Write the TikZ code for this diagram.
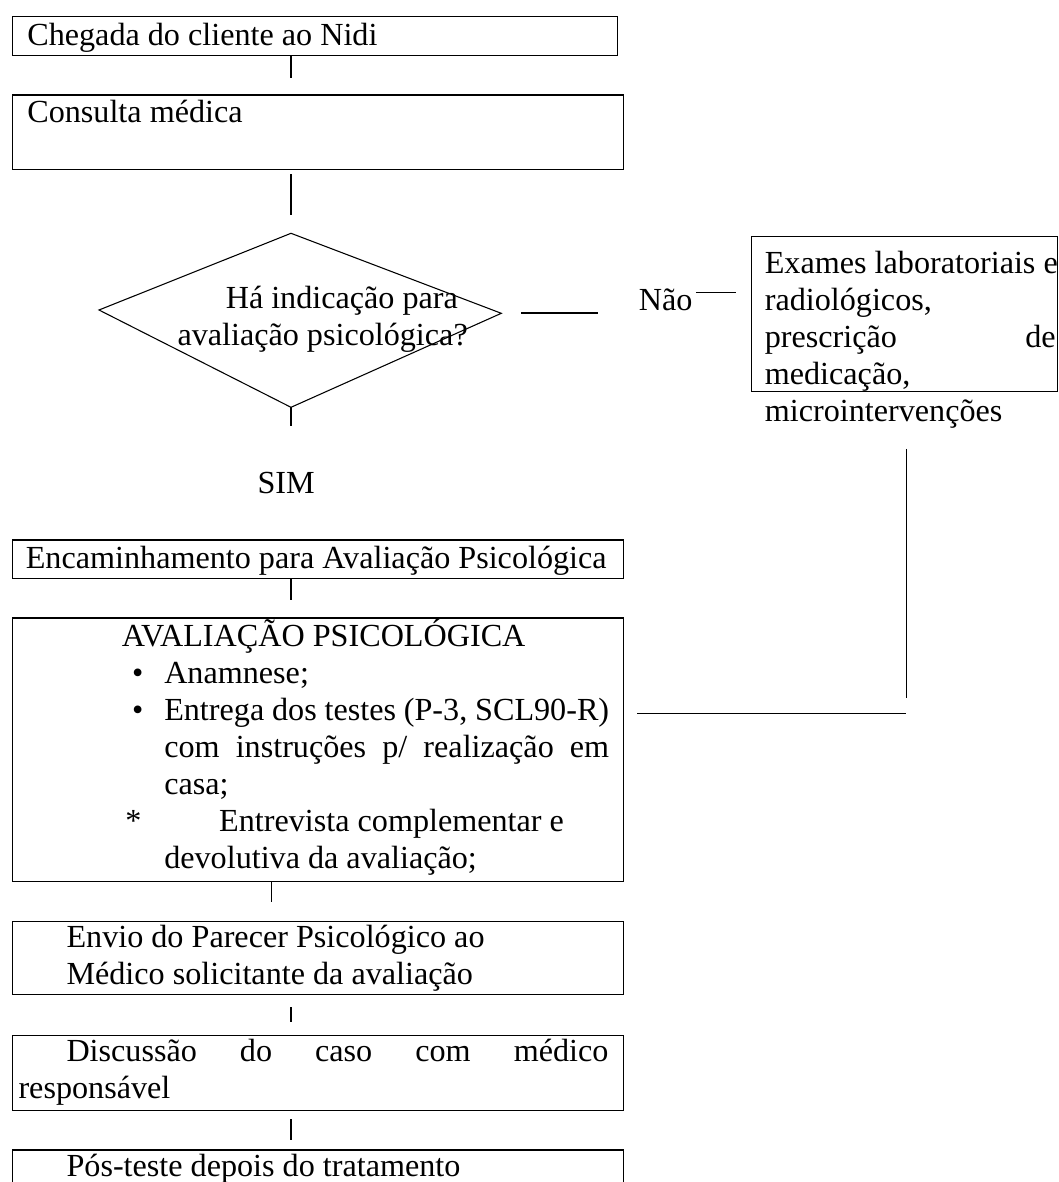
\documentclass[tikz,border=0pt]{standalone}
\usepackage{fontspec}
\setmainfont{Liberation Serif}
\newcommand{\pxu}{0.3731pt}

\begin{document}
\begin{tikzpicture}[x=\pxu,y=-\pxu,
  box/.style={draw,line width=0.55pt,inner sep=0pt,anchor=north west},
  txt/.style={inner sep=0pt,anchor=base west,align=left,font=\fontsize{12pt}{13.8pt}\selectfont},
  conn/.style={line width=0.4pt}]
  \clip (0,0) rectangle (1058,1182);
  % boxes
  \node[box,minimum width=605*\pxu,minimum height=39.3*\pxu] (chegada) at (12,15.7) {};
  \node[box,minimum width=610.8*\pxu,minimum height=74.7*\pxu] (consulta) at (12,94.3) {};
  \node[box,minimum width=306*\pxu,minimum height=154.7*\pxu] (exames) at (751,236) {};
  \node[box,minimum width=610.6*\pxu,minimum height=38.2*\pxu] (enc) at (12,539.3) {};
  \node[box,minimum width=610.8*\pxu,minimum height=263.4*\pxu] (aval) at (12,617.3) {};
  \node[box,minimum width=610.8*\pxu,minimum height=73*\pxu] (envio) at (12,921) {};
  \node[box,minimum width=610.8*\pxu,minimum height=75*\pxu] (disc) at (12,1035) {};
  \node[box,minimum width=610.8*\pxu,minimum height=60*\pxu] (pos) at (12,1149.3) {};
  % decision
  \coordinate (dN) at (291,233.3);
  \coordinate (dE) at (501.3,313.3);
  \coordinate (dS) at (291,407.3);
  \coordinate (dW) at (99,310);
  \draw[conn] (dN) -- (dE) -- (dS) -- (dW) -- cycle;
  % texts (multi-line ones sit on their last baseline)
  \node[txt] (chegadaT) at (26.8,45) {Chegada do cliente ao Nidi};
  \node[txt] (consultaT) at (26.8,122.7) {Consulta médica};
  \node[txt] (indicT) at (177,345.3) {\hspace*{18pt}Há indicação para\\avaliação psicológica?};
  \node[txt] (nao) at (638.3,310) {Não};
  \node[txt] (sim) at (257,493.3) {SIM};
  \node[txt] (examesT) at (764.3,421) {Exames laboratoriais e\\radiológicos,\\
    \makebox[108.5pt][s]{prescrição de}\\medicação,\\microintervenções};
  \node[txt] (encT) at (25.3,568.3) {Encaminhamento para Avaliação Psicológica};
  \node[txt] (avalT) at (121.4,868.3) {AVALIAÇÃO PSICOLÓGICA\\
    \hspace*{3.8pt}\makebox[12pt][l]{\textbullet}Anamnese;\\
    \hspace*{3.8pt}\makebox[12pt][l]{\textbullet}\makebox[166pt][s]{Entrega dos testes (P-3, SCL90-R)}\\
    \hspace*{15.8pt}\makebox[166pt][s]{com instruções p/ realização em}\\
    \hspace*{15.8pt}casa;\\
    \hspace*{1.3pt}\makebox[35pt][l]{*}Entrevista complementar e\\
    \hspace*{15.8pt}devolutiva da avaliação;};
  \node[txt] (envioT) at (66,984.3) {Envio do Parecer Psicológico ao\\Médico solicitante da avaliação};
  \node[txt] (discT) at (18,1098.3) {\hspace*{17.9pt}\makebox[202.2pt][s]{Discussão do caso com médico}\\responsável};
  \node[txt] (posT) at (66,1176.7) {Pós-teste depois do tratamento};
  % connectors
  \draw[conn] (chegada.south -| dN) -- ++(0,21.7);
  \draw[conn] (consulta.south -| dN) ++(0,4) -- ++(0,41);
  \draw[conn] (dS) -- ++(0,18.4);
  \draw[conn] (dE) ++(20.1,-0.3) -- ++(76.6,0);
  \draw[conn] (nao.base east) ++(3,-17.3) -- ++(39.7,0);
  \draw[conn] (exames.south) ++(1.7,56.6) -- ++(0,249.4) coordinate (retB);
  \draw[conn] (aval.east) ++(13.2,-36.3) coordinate (retA) -- (retA -| retB);
  \draw[conn] (enc.south -| dN) -- ++(0,21.5);
  \draw[conn] (aval.south) ++(-46.4,0) -- ++(0,20);
  \draw[conn] (envio.south -| dN) ++(0,12) -- ++(0,14.7);
  \draw[conn] (disc.south -| dN) ++(0,8) -- ++(0,20.3);
\end{tikzpicture}
\end{document}
